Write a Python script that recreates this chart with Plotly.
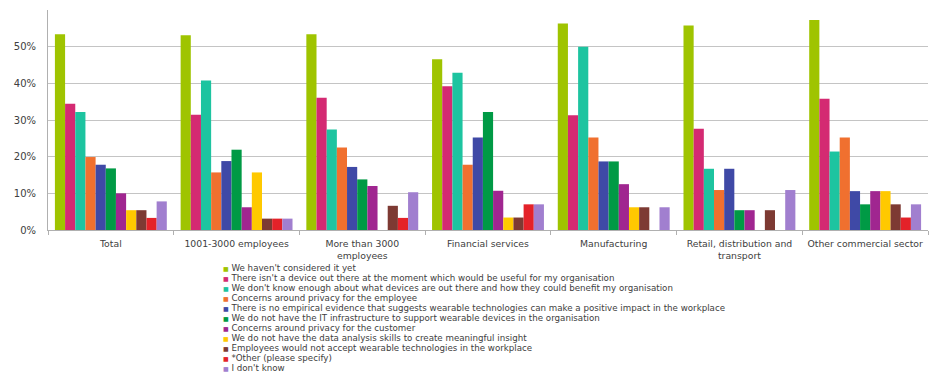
import plotly.graph_objects as go

categories = ["Total", "1001-3000 employees", "More than 3000<br>employees",
              "Financial services", "Manufacturing",
              "Retail, distribution and<br>transport", "Other commercial sector"]

series_names = [
    "We haven't considered it yet",
    "There isn't a device out there at the moment which would be useful for my organisation",
    "We don't know enough about what devices are out there and how they could benefit my organisation",
    "Concerns around privacy for the employee",
    "There is no empirical evidence that suggests wearable technologies can make a positive impact in the workplace",
    "We do not have the IT infrastructure to support wearable devices in the organisation",
    "Concerns around privacy for the customer",
    "We do not have the data analysis skills to create meaningful insight",
    "Employees would not accept wearable technologies in the workplace",
    "*Other (please specify)",
    "I don't know",
]

# values in percent, one list per series, in category order
haven_t_considered = [53.4, 53.1, 53.4, 46.6, 56.3, 55.8, 57.3]
no_useful_device = [34.4, 31.4, 36.1, 39.2, 31.3, 27.6, 35.8]
dont_know_enough = [32.2, 40.8, 27.4, 42.9, 50.0, 16.7, 21.4]
privacy_employee = [19.9, 15.7, 22.5, 17.8, 25.2, 10.9, 25.2]
no_evidence = [17.8, 18.8, 17.2, 25.2, 18.7, 16.7, 10.6]
no_it_infra = [16.8, 21.9, 13.8, 32.2, 18.7, 5.4, 7.0]
privacy_customer = [10.0, 6.2, 12.0, 10.7, 12.5, 5.4, 10.6]
no_analysis_skills = [5.4, 15.7, 0.0, 3.4, 6.2, 0.0, 10.6]
employees_not_accept = [5.4, 3.1, 6.6, 3.4, 6.2, 5.4, 7.0]
other = [3.3, 3.1, 3.3, 7.0, 0.0, 0.0, 3.4]
dont_know = [7.8, 3.1, 10.3, 7.0, 6.2, 10.9, 7.0]

series_values = [haven_t_considered, no_useful_device, dont_know_enough, privacy_employee,
                 no_evidence, no_it_infra, privacy_customer, no_analysis_skills,
                 employees_not_accept, other, dont_know]

colors = ["#9fc400", "#d42a72", "#1dc4a0", "#f0702f", "#3f49a6", "#009a45",
          "#a02690", "#ffc900", "#7d3a33", "#e42229", "#a17fcf"]

y_tickvals = [0, 0.1, 0.2, 0.3, 0.4, 0.5]

fig = go.Figure()
for name, vals, col in zip(series_names, series_values, colors):
    fig.add_trace(go.Bar(x=categories, y=[v / 100 for v in vals], name=name,
                         marker=dict(color=col, line=dict(width=0))))

font_family = "DejaVu Sans"
annotations = []
for i, (name, col) in enumerate(zip(series_names, colors)):
    ypix = 267.5 + i * 10.1
    annotations.append(dict(
        xref="paper", yref="paper", x=(221 - 48) / 880, y=(230 - ypix) / 220,
        xanchor="left", yanchor="middle", showarrow=False, align="left",
        text=f'<span style="color:{col};font-size:6px">■</span> {name}',
        font=dict(family=font_family, size=8.7, color="#404040"),
    ))

fig.update_layout(
    width=948, height=374,
    margin=dict(l=48, r=20, t=10, b=144),
    paper_bgcolor="white", plot_bgcolor="white",
    barmode="group", bargap=0.11, bargroupgap=0,
    showlegend=False,
    annotations=annotations,
    font=dict(family=font_family, size=9, color="#404040"),
)
fig.update_xaxes(
    showline=True, linecolor="#b0b0b0", linewidth=1,
    ticks="outside", tickson="boundaries", ticklen=4, tickcolor="#b0b0b0",
    tickfont=dict(family=font_family, size=9.3, color="#404040"),
    tickangle=0, automargin=False,
    ticklabelstandoff=5,
    showgrid=False,
)
fig.update_yaxes(
    range=[0, 0.6], tickvals=y_tickvals, tickformat=".0%",
    showline=True, linecolor="#b0b0b0", linewidth=1,
    showgrid=True, gridcolor="#c4c4c4", gridwidth=1,
    zeroline=False, ticks="", ticklen=0, automargin=False,
    ticklabelstandoff=9,
    tickfont=dict(family=font_family, size=10, color="#404040"),
)

fig.write_html("out.html")
